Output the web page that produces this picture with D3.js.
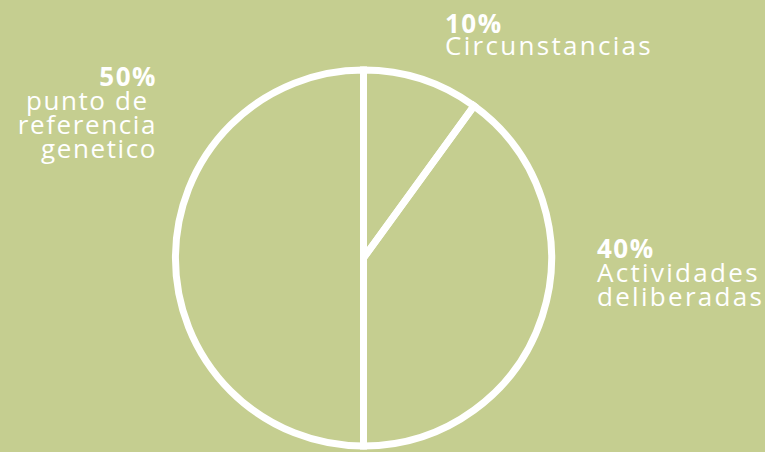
<!DOCTYPE html>
<html><head><meta charset="utf-8">
<script src="https://cdn.jsdelivr.net/npm/d3@7"></script>
<style>
html,body{margin:0;padding:0;background:#c5ce90;}
svg{display:block;}
text{font-family:"Open Sans",sans-serif;fill:#fff;white-space:pre;}
</style></head>
<body>
<script>
const categories = ["Circunstancias", "Actividades deliberadas", "punto de referencia genetico"];
const values = [10, 40, 50];
const pctLabels = ["10%", "40%", "50%"];
const labelLines = [["Circunstancias"], ["Actividades", "deliberadas"], ["punto de ", "referencia", "genetico"]];

const W = 765, H = 452;
const svg = d3.select("body").append("svg").attr("width", W).attr("height", H);
svg.append("rect").attr("width", W).attr("height", H).attr("fill", "#c5ce90");

const cx = 363.5, cy = 258, r = 188;
const pie = d3.pie().sort(null).value(d => d)(values);
const arc = d3.arc().innerRadius(0).outerRadius(r);
const g = svg.append("g").attr("transform", `translate(${cx},${cy})`);
g.selectAll("path").data(pie).join("path")
  .attr("d", arc)
  .attr("fill", "none")
  .attr("stroke", "#fff")
  .attr("stroke-width", 7)
  .attr("stroke-linejoin", "miter");

const labelPos = [
  {x: 445, y: 33, anchor: "start", ls: 2.3},
  {x: 597, y: 258, anchor: "start", ls: 2.3},
  {x: 157, y: 86, anchor: "end", ls: 1.6}
];
const lineH = 24;
labelPos.forEach((p, i) => {
  const t = svg.append("text").attr("text-anchor", p.anchor);
  t.append("tspan").attr("x", p.x).attr("y", p.y)
    .attr("font-weight", 700).attr("font-size", 26).attr("letter-spacing", 1.5).text(pctLabels[i]);
  labelLines[i].forEach((ln, j) => {
    t.append("tspan").attr("x", p.x).attr("y", p.y + lineH * (j + 1) - (i === 0 ? 2 : 0))
      .attr("font-weight", 400).attr("font-size", 26).attr("letter-spacing", p.ls).text(ln);
  });
});
</script>
</body></html>
